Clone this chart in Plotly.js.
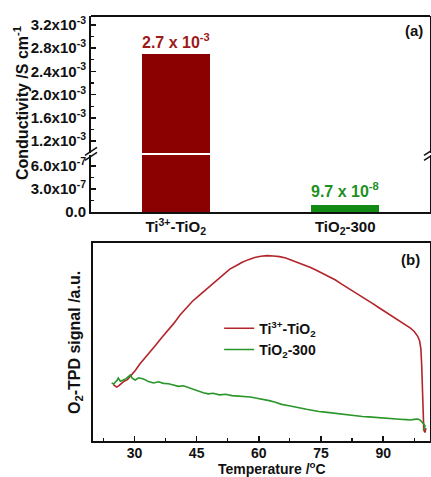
<!DOCTYPE html>
<html>
<head>
<meta charset="utf-8">
<script src="https://cdn.plot.ly/plotly-3.0.1.min.js"></script>
<style>html,body{margin:0;padding:0;background:#fff;}#chart{width:431px;height:477px;}</style>
</head>
<body>
<div id="chart"></div>
<script>
// ---- Panel (a): conductivity bars ----
const categories = ['Ti<sup>3+</sup>-TiO<sub>2</sub>', 'TiO<sub>2</sub>-300'];
const conductivity = [2.7e-3, 9.7e-8];
const barColors = ['#8b0000', '#138a13'];
const valueLabels = ['2.7 x 10<sup>-3</sup>', '9.7 x 10<sup>-8</sup>'];
const valueLabelColors = ['#9e1a1a', '#1f8f1f'];
const upperTickVals = [1.2e-3, 1.6e-3, 2.0e-3, 2.4e-3, 2.8e-3, 3.2e-3];
const upperTickText = ['1.2x10<sup>-3</sup>', '1.6x10<sup>-3</sup>', '2.0x10<sup>-3</sup>', '2.4x10<sup>-3</sup>', '2.8x10<sup>-3</sup>', '3.2x10<sup>-3</sup>'];
const upperMinorVals = [1.0e-3, 1.4e-3, 1.8e-3, 2.2e-3, 2.6e-3, 3.0e-3];
const lowerTickVals = [0, 3e-7, 6e-7];
const lowerTickText = ['0.0', '3.0x10<sup>-7</sup>', '6.0x10<sup>-7</sup>'];
const lowerMinorVals = [1.5e-7, 4.5e-7];

// ---- Panel (b): O2-TPD curves ----
const seriesNames = ['Ti<sup>3+</sup>-TiO<sub>2</sub>', 'TiO<sub>2</sub>-300'];
const tempRed = [24.9,25.3,25.7,26.2,26.8,27.5,28.3,29.2,30.2,31.3,32.5,33.8,35.2,36.6,38.0,39.5,41.0,42.5,44.0,45.5,47.0,48.5,50.0,51.5,53.0,54.5,56.0,57.5,59.0,60.5,62.0,63.5,65.0,66.5,68.0,69.5,71.0,72.5,74.0,75.5,77.0,78.5,80.0,81.5,83.0,84.5,86.0,87.5,89.0,90.5,92.0,93.5,95.0,96.5,97.5,98.3,98.8,99.1,99.3,99.4,99.5,99.6,99.8,100.1,100.3];
const signalRed = [28.5,27.6,27.2,27.8,28.9,30.2,31.0,33.2,35.6,38.9,41.8,45.4,48.6,52.3,55.7,59.4,63.6,67.4,70.6,73.3,76.0,78.6,81.7,84.2,86.8,88.5,90.3,91.6,92.7,93.3,93.6,93.4,93.1,92.4,91.2,90.1,88.9,87.6,86.1,84.6,82.9,81.3,79.2,77.3,75.2,73.4,71.5,69.4,67.3,65.2,63.3,61.2,59.3,57.1,55.3,53.0,50.5,46.5,38.0,28.0,18.0,9.5,5.5,4.3,6.5];
const tempGreen = [24.5,25.0,25.4,25.8,26.1,26.6,27.3,28.0,29.0,29.5,30.2,31.0,32.2,33.4,34.6,35.8,37.0,38.2,39.4,40.6,41.8,43.0,44.2,45.4,46.6,47.8,49.0,50.5,52.0,53.5,55.0,56.5,58.0,59.5,61.0,62.5,64.0,65.5,67.0,68.5,70.0,71.5,73.0,74.5,76.0,77.5,79.0,80.5,82.0,83.5,85.0,86.5,88.0,89.5,91.0,92.5,94.0,95.5,96.5,97.5,98.4,99.0,99.4,99.8,100.1,99.9,99.6];
const signalGreen = [29.3,28.8,29.8,30.6,31.8,30.2,30.8,31.5,33.3,31.6,30.8,31.9,31.3,30.0,29.3,29.9,29.1,28.9,28.3,27.6,27.9,27.0,26.4,25.5,24.4,23.8,24.1,23.3,23.6,22.9,22.7,22.4,22.2,21.6,21.1,20.4,19.6,18.5,17.9,17.4,16.7,16.0,15.4,14.9,14.6,14.2,13.9,13.6,13.1,12.8,12.4,12.2,11.9,11.7,11.6,11.2,11.0,10.8,10.6,10.9,11.1,10.4,9.6,8.6,7.6,6.2,5.6];
const tempTicks = [30, 45, 60, 75, 90];

const FONT = 'Liberation Sans, Arial, sans-serif';
const txt = {family: FONT, size: 14, color: '#111', weight: 'bold'};

const traces = [
  // upper segment of broken axis
  {type: 'bar', x: [0, 1], y: conductivity, width: 0.4, marker: {color: barColors, line: {width: 0}},
   xaxis: 'x', yaxis: 'y', showlegend: false, hoverinfo: 'skip'},
  // lower segment of broken axis
  {type: 'bar', x: [0, 1], y: conductivity, width: 0.4, marker: {color: barColors, line: {width: 0}},
   xaxis: 'x', yaxis: 'y2', showlegend: false, hoverinfo: 'skip'},
  {type: 'scatter', mode: 'lines', x: tempRed, y: signalRed, name: seriesNames[0],
   line: {color: '#b3242b', width: 1.6}, xaxis: 'x2', yaxis: 'y3'},
  {type: 'scatter', mode: 'lines', x: tempGreen, y: signalGreen, name: seriesNames[1],
   line: {color: '#2a962a', width: 1.6}, xaxis: 'x2', yaxis: 'y3'}
];

const gapMid = 0.6753;
const bx = 6 / 339, by = 4 / 425, bo = 2.5 / 425;
const breakShapes = [];
[0, 1].forEach(function (xd) {
  [-bo, bo].forEach(function (off) {
    breakShapes.push({type: 'line', xref: 'x domain', yref: 'paper',
      x0: xd - bx, x1: xd + bx, y0: gapMid + off - by, y1: gapMid + off + by,
      line: {color: '#111', width: 1.5}});
  });
});

const layout = {
  width: 431, height: 477,
  margin: {l: 91, r: 1, t: 16, b: 36},
  paper_bgcolor: '#fff', plot_bgcolor: '#fff',
  font: txt,
  bargap: 0,
  xaxis: {domain: [0, 1], anchor: 'y2', range: [-0.5, 1.5], tickmode: 'array', tickvals: [0, 1], ticktext: categories,
    showline: true, linecolor: '#111', linewidth: 2, ticks: '', showgrid: false, zeroline: false,
    tickfont: {family: FONT, size: 15, color: '#111', weight: 'bold'}},
  yaxis: {domain: [0.6776, 1], anchor: 'x', range: [0.993e-3, 3.355e-3], tickmode: 'array',
    tickvals: upperTickVals, ticktext: upperTickText, ticks: 'inside', ticklen: 5, tickwidth: 1.5, tickcolor: '#111',
    minor: {tickmode: 'array', tickvals: upperMinorVals, ticks: 'inside', ticklen: 3, tickwidth: 1.2, tickcolor: '#111'},
    showline: true, mirror: true, linecolor: '#111', linewidth: 2, showgrid: false, zeroline: false,
    tickfont: {family: FONT, size: 15, color: '#111', weight: 'bold'}},
  yaxis2: {domain: [0.5388, 0.6729], anchor: 'x', range: [0, 7.43e-7], tickmode: 'array',
    tickvals: lowerTickVals, ticktext: lowerTickText, ticks: 'inside', ticklen: 5, tickwidth: 1.5, tickcolor: '#111',
    minor: {tickmode: 'array', tickvals: lowerMinorVals, ticks: 'inside', ticklen: 3, tickwidth: 1.2, tickcolor: '#111'},
    showline: true, mirror: true, linecolor: '#111', linewidth: 2, showgrid: false, zeroline: false,
    tickfont: {family: FONT, size: 15, color: '#111', weight: 'bold'}},
  xaxis2: {domain: [2 / 339, 1], anchor: 'y3', range: [20, 101.3], tickmode: 'array', tickvals: tempTicks,
    ticks: 'inside', ticklen: 5, tickwidth: 1.5, tickcolor: '#111', ticklabelstandoff: -2,
    minor: {dtick: 7.5, tick0: 0, ticks: 'inside', ticklen: 3, tickwidth: 1.2, tickcolor: '#111'},
    showline: true, mirror: true, linecolor: '#111', linewidth: 2, showgrid: false, zeroline: false,
    tickfont: {family: FONT, size: 14, color: '#111', weight: 'bold'}},
  yaxis3: {domain: [0, 0.4659], anchor: 'x2', range: [0, 100], showticklabels: false, ticks: '',
    showline: true, mirror: true, linecolor: '#111', linewidth: 2, showgrid: false, zeroline: false},
  legend: {x: 0.378, y: 0.302, xanchor: 'left', yanchor: 'top', bgcolor: 'rgba(0,0,0,0)',
    font: {family: FONT, size: 14, color: '#111', weight: 'bold'}, tracegroupgap: 0},
  shapes: [
    {type: 'line', xref: 'x domain', yref: 'y domain', x0: 0, x1: 1, y0: 1, y1: 1, line: {color: '#111', width: 2}}
  ].concat(breakShapes),
  annotations: [
    {xref: 'x', yref: 'y', x: 0, y: conductivity[0], text: valueLabels[0], showarrow: false, yanchor: 'bottom', yshift: 1,
      font: {family: FONT, size: 16, color: valueLabelColors[0], weight: 'bold'}},
    {xref: 'x', yref: 'y2', x: 1, y: conductivity[1], text: valueLabels[1], showarrow: false, yanchor: 'bottom', yshift: 3,
      font: {family: FONT, size: 16, color: valueLabelColors[1], weight: 'bold'}},
    {xref: 'paper', yref: 'paper', x: 0.985, y: (441 - 30) / 425, text: '(a)', showarrow: false, xanchor: 'right', yanchor: 'middle',
      font: {family: FONT, size: 15, color: '#111', weight: 'bold'}},
    {xref: 'paper', yref: 'paper', x: 0.976, y: (441 - 259) / 425, text: '(b)', showarrow: false, xanchor: 'right', yanchor: 'middle',
      font: {family: FONT, size: 15, color: '#111', weight: 'bold'}},
    {xref: 'paper', yref: 'paper', x: (21 - 91) / 339, y: (441 - 103) / 425, text: 'Conductivity /S cm<sup>-1</sup>', textangle: -90,
      showarrow: false, xanchor: 'center', yanchor: 'middle', font: {family: FONT, size: 16, color: '#111', weight: 'bold'}},
    {xref: 'paper', yref: 'paper', x: (75 - 91) / 339, y: (441 - 343) / 425, text: 'O<sub>2</sub>-TPD signal /a.u.', textangle: -90,
      showarrow: false, xanchor: 'center', yanchor: 'middle', font: {family: FONT, size: 16, color: '#111', weight: 'bold'}},
    {xref: 'paper', yref: 'paper', x: (272 - 91) / 339, y: (441 - 468) / 425, text: 'Temperature /<sup>o</sup>C',
      showarrow: false, xanchor: 'center', yanchor: 'middle', font: {family: FONT, size: 14, color: '#111', weight: 'bold'}}
  ]
};

Plotly.newPlot('chart', traces, layout, {staticPlot: true, displayModeBar: false});
</script>
</body>
</html>
